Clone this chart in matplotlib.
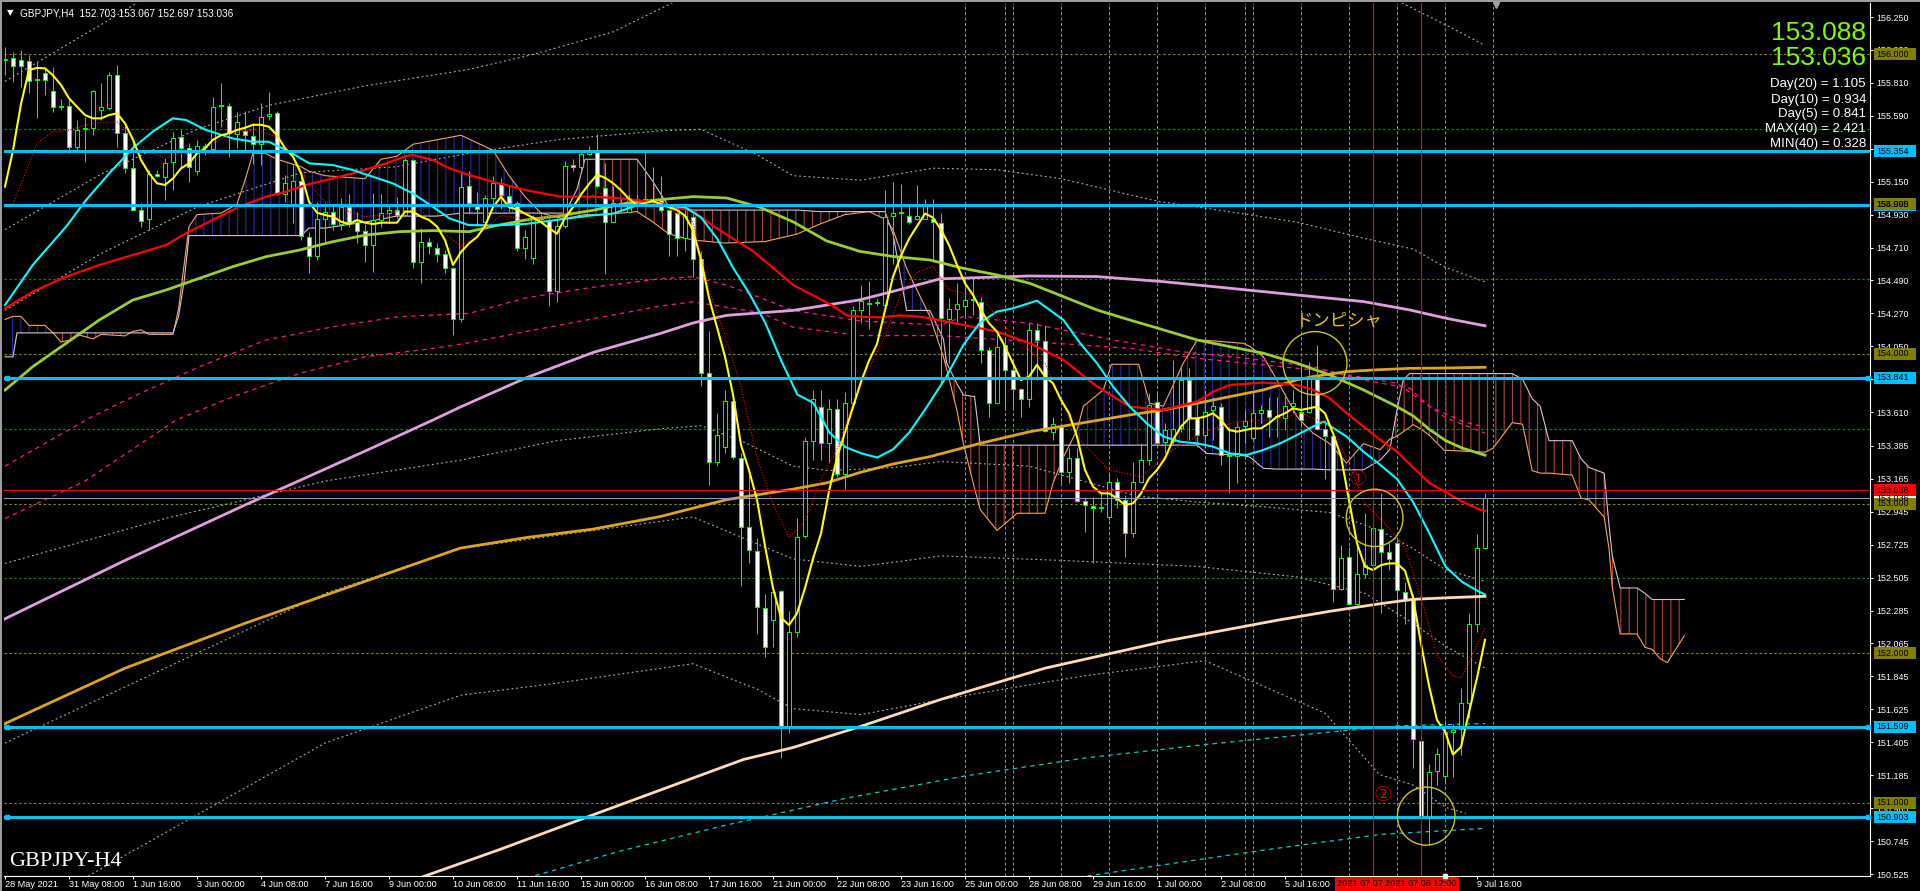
import numpy as np
import matplotlib
matplotlib.use("Agg")
import matplotlib.pyplot as plt
from matplotlib.patches import Ellipse, Rectangle
from matplotlib.transforms import blended_transform_factory

plt.rcParams['hatch.linewidth'] = 0.8

# ======================= DATA =======================
opens = [155.960,155.974,155.963,155.958,155.830,155.874,155.756,155.651,155.655,155.384,
         155.500,155.506,155.630,155.640,155.863,155.473,155.239,154.960,154.900,155.200,
         155.183,155.280,155.446,155.373,155.220,155.380,155.370,155.660,155.655,155.470,
         155.490,155.455,155.400,155.590,155.606,155.070,154.990,155.156,154.780,154.653,
         154.900,154.950,154.867,154.983,154.883,154.822,154.727,154.894,154.940,154.960,
         154.927,155.295,154.616,154.745,154.710,154.670,154.571,154.230,155.120,155.000,
         154.881,155.044,155.140,155.055,155.007,154.707,154.640,154.915,154.886,154.417,
         154.853,155.260,155.246,155.336,155.360,155.110,154.881,155.000,154.950,155.030,
         155.030,155.020,155.027,154.960,154.942,154.774,154.915,154.633,153.870,153.279,
         153.377,153.686,153.306,152.843,152.682,152.300,152.225,152.413,151.508,152.140,
         152.786,153.419,153.644,153.405,153.630,153.194,153.672,154.296,154.330,154.340,
         154.325,154.920,154.940,154.920,154.900,154.903,154.900,154.876,154.231,154.297,
         154.320,154.360,154.349,154.026,153.674,154.059,153.890,153.763,153.696,154.160,
         154.088,153.480,153.510,153.213,153.302,153.020,152.986,152.970,152.913,153.146,
         153.024,152.805,153.146,153.291,153.681,153.413,153.420,153.502,153.825,153.569,
         153.458,153.625,153.648,153.320,153.318,153.518,153.436,153.607,153.625,153.580,
         153.569,153.650,153.614,153.614,153.836,153.496,153.451,152.427,152.640,152.329,
         152.529,152.589,152.828,152.678,152.734,152.410,152.359,151.413,150.914,151.213,
         151.183,151.472,151.497,151.669,152.198,152.703]
highs = [156.050,156.018,156.030,155.996,155.952,155.907,155.918,155.700,155.707,155.562,
         155.580,155.760,155.810,155.885,155.930,155.520,155.430,155.005,155.228,155.228,
         155.306,155.484,155.495,155.406,155.430,155.410,155.718,155.807,155.673,155.618,
         155.620,155.540,155.673,155.751,155.620,155.195,155.270,155.183,154.816,155.016,
         155.005,155.000,155.040,155.070,154.950,154.870,155.076,155.070,154.990,155.050,
         155.306,155.300,154.838,154.771,154.738,154.693,154.582,155.206,155.218,155.078,
         155.060,155.190,155.176,155.120,155.020,154.825,154.930,154.937,154.909,154.909,
         155.288,155.300,155.360,155.387,155.470,155.274,155.120,155.035,155.060,155.060,
         155.359,155.246,155.190,154.965,154.950,154.965,154.937,154.684,154.150,153.602,
         153.756,153.714,153.335,153.222,152.773,152.393,152.435,152.421,152.280,152.900,
         153.447,153.756,153.756,153.700,153.700,153.742,154.318,154.459,154.487,154.375,
         155.092,155.148,155.134,154.993,155.130,155.035,155.035,154.939,154.371,154.470,
         154.505,154.516,154.382,154.048,154.148,154.115,153.959,153.770,154.204,154.204,
         154.193,153.580,153.536,153.369,153.369,153.046,153.046,153.068,153.202,153.168,
         153.057,153.280,153.402,153.736,153.741,153.536,153.959,153.915,153.903,153.669,
         153.758,153.714,153.670,153.514,153.547,153.625,153.736,153.658,153.714,153.714,
         153.736,153.758,153.937,153.948,154.059,153.558,153.480,152.723,152.712,152.723,
         152.935,153.157,153.068,152.734,152.756,152.474,152.397,151.733,151.259,151.369,
         151.553,151.528,151.771,152.270,152.794,153.067]
lows = [155.860,155.818,155.785,155.740,155.573,155.729,155.618,155.630,155.344,155.350,
        155.284,155.460,155.560,155.630,155.384,155.206,154.960,154.845,154.830,155.180,
        155.027,155.094,155.239,155.150,155.195,155.330,155.339,155.517,155.317,155.373,
        155.360,155.270,155.262,155.562,155.060,155.016,154.872,154.760,154.537,154.627,
        154.740,154.827,154.830,154.850,154.740,154.616,154.548,154.850,154.872,154.905,
        154.916,154.571,154.470,154.670,154.616,154.537,154.126,154.215,154.937,154.853,
        154.840,154.990,154.965,154.950,154.684,154.633,154.600,154.880,154.319,154.347,
        154.840,155.218,155.230,155.330,155.106,154.530,154.880,154.965,154.940,155.000,
        155.007,155.000,154.950,154.656,154.656,154.684,154.515,153.785,153.124,153.250,
        153.335,153.300,152.450,152.604,152.126,151.972,152.042,151.297,151.465,152.110,
        152.773,153.292,153.292,153.280,153.180,153.096,153.644,154.206,154.164,154.320,
        154.318,154.600,154.684,154.867,154.895,154.900,154.614,153.803,153.937,154.200,
        154.237,154.260,153.937,153.580,153.670,153.625,153.648,153.580,153.648,153.825,
        153.480,153.425,153.135,153.135,153.013,152.812,152.600,152.946,152.890,152.968,
        152.645,152.779,153.135,153.257,153.402,153.335,153.400,153.480,153.425,153.380,
        153.380,153.425,153.257,153.068,153.135,153.402,153.425,153.536,153.447,153.447,
        153.491,153.603,153.514,153.603,153.490,153.162,152.344,152.422,152.329,152.322,
        152.500,152.578,152.266,152.556,152.244,152.193,151.234,150.658,150.722,151.119,
        151.132,151.170,151.323,151.566,152.142,152.697]
closes = [155.970,155.925,155.925,155.825,155.834,155.830,155.651,155.655,155.384,155.495,
          155.510,155.758,155.650,155.863,155.473,155.239,154.961,154.887,155.201,155.190,
          155.277,155.439,155.373,155.250,155.390,155.390,155.651,155.655,155.473,155.550,
          155.460,155.400,155.584,155.605,155.068,155.139,155.156,154.787,154.653,154.898,
          154.950,154.867,154.983,154.883,154.822,154.727,154.894,154.943,154.960,154.927,
          155.295,154.616,154.749,154.720,154.670,154.571,154.230,155.117,155.007,154.970,
          155.044,155.140,155.063,155.007,154.707,154.782,154.915,154.900,154.417,154.853,
          155.252,155.250,155.336,155.360,155.120,154.881,155.007,154.990,155.044,155.035,
          155.035,155.030,154.960,154.800,154.774,154.923,154.633,153.869,153.279,153.461,
          153.686,153.312,152.843,152.688,152.309,152.042,152.407,151.508,152.140,152.778,
          153.419,153.700,153.405,153.630,153.194,153.672,154.296,154.352,154.340,154.345,
          154.915,154.940,154.945,154.880,154.920,154.993,154.880,154.237,154.297,154.333,
          154.360,154.365,154.026,153.674,154.048,153.890,153.763,153.696,154.160,154.093,
          153.487,153.531,153.213,153.302,153.019,152.990,152.968,152.975,153.146,153.024,
          152.805,153.146,153.291,153.658,153.407,153.491,153.500,153.825,153.569,153.458,
          153.614,153.652,153.324,153.322,153.514,153.554,153.607,153.625,153.580,153.585,
          153.652,153.670,153.558,153.836,153.496,153.451,152.427,152.634,152.330,152.529,
          152.589,152.834,152.678,152.627,152.420,152.359,151.426,150.914,151.208,151.328,
          151.472,151.489,151.669,152.198,152.704,153.036]

ask_price = 153.088

# indicator lines, (bar index, price) pairs
fast_ma = [(0,155.117),(1,155.36),(2,155.67),(3,155.896),(4,155.91),(5,155.907),(6,155.86),(7,155.796),
    (8,155.707),(9,155.65),(10,155.595),(11,155.573),(12,155.573),(13,155.595),(14,155.606),(15,155.54),
    (16,155.43),(17,155.295),(18,155.206),(19,155.139),(20,155.128),(21,155.172),(22,155.239),(23,155.272),
    (24,155.339),(25,155.373),(26,155.43),(27,155.46),(28,155.473),(29,155.495),(30,155.51),(31,155.53),
    (32,155.53),(33,155.517),(34,155.46),(35,155.373),(36,155.317),(37,155.206),(38,155.016),(39,154.943),
    (40,154.927),(41,154.916),(42,154.883),(43,154.867),(44,154.894),(45,154.876),(46,154.867),(47,154.876),
    (48,154.876),(49,154.876),(50,154.95),(51,154.95),(52,154.916),(53,154.894),(54,154.85),(55,154.76),
    (56,154.593),(57,154.68),(58,154.738),(59,154.78),(60,154.853),(61,154.979),(62,155.05),(63,154.979),
    (64,154.965),(65,154.937),(66,154.909),(67,154.88),(68,154.84),(69,154.802),(70,154.909),(71,154.979),
    (72,155.064),(73,155.134),(74,155.196),(75,155.176),(76,155.14),(77,155.092),(78,155.035),(79,154.993),
    (80,155.007),(81,155.02),(82,155.0),(83,154.979),(84,154.96),(85,154.923),(86,154.825),(87,154.628),
    (88,154.375),(89,154.178),(90,153.981),(91,153.728),(92,153.391),(93,153.222),(94,153.026),(95,152.716),
    (96,152.435),(97,152.238),(98,152.188),(99,152.266),(100,152.435),(101,152.632),(102,152.8),(103,153.082),
    (104,153.307),(105,153.475),(106,153.644),(107,153.813),(108,153.953),(109,154.066),(110,154.29),
    (111,154.515),(112,154.656),(113,154.768),(114,154.853),(115,154.937),(116,154.91),(117,154.828),
    (118,154.727),(119,154.594),(120,154.471),(121,154.393),(122,154.293),(123,154.204),(124,154.148),
    (125,154.048),(126,153.937),(127,153.825),(128,153.848),(129,153.926),(130,153.848),(131,153.803),
    (132,153.692),(133,153.603),(134,153.447),(135,153.224),(136,153.113),(137,153.068),(138,153.068),
    (139,153.035),(140,152.99),(141,153.001),(142,153.068),(143,153.168),(144,153.224),(145,153.302),
    (146,153.425),(147,153.514),(148,153.569),(149,153.569),(150,153.58),(151,153.603),(152,153.558),
    (153,153.491),(154,153.48),(155,153.491),(156,153.502),(157,153.502),(158,153.536),(159,153.58),
    (160,153.603),(161,153.636),(162,153.625),(163,153.636),(164,153.647),(165,153.603),(166,153.469),
    (167,153.313),(168,153.024),(169,152.734),(170,152.578),(171,152.556),(172,152.589),(173,152.6),
    (174,152.6),(175,152.551),(176,152.372),(177,152.065),(178,151.784),(179,151.553),(180,151.477),
    (181,151.323),(182,151.374),(183,151.605),(184,151.835),(185,152.09)]
dotted_ma = [(1,155.0),(2.5,155.2),(4,155.406),(6,155.484),(8,155.495),(11,155.54),(14,155.55),(16,155.45),
    (18,155.35),(20,155.306),(22,155.339),(24,155.339),(26,155.406),(28,155.462),(30,155.495),(32,155.484),
    (34,155.45),(36,155.317),(38,155.139),(40,155.016),(43,154.95),(45,154.916),(47,154.927),(50,154.96),
    (52,154.96),(55,154.805),(57,154.716),(62,154.923),(66,154.895),(70,154.937),(74,155.078),(78,155.021),
    (82,154.993),(86,154.881),(88,154.431),(90,154.122),(92,153.785),(94,153.307),(96,152.997),(98,152.773),
    (100,152.885),(102,153.166),(104,153.363),(106,153.672),(108,153.897),(110,154.122),(112,154.403),
    (114,154.543),(116,154.586),(118,154.427),(122,154.382),(126,154.115),(130,153.937),(134,153.447),
    (138,153.224),(142,153.18),(146,153.358),(150,153.48),(154,153.547),(158,153.558),(162,153.603),
    (166,153.514),(170,153.001),(174,152.779),(175,152.704),(177,152.372),(179,151.988),(181,151.848),
    (182,151.835),(183,151.937),(185,152.167)]
cyan_ma = [(0,154.326),(3.46,154.593),(7.63,154.849),(10.13,155.027),(13.04,155.206),(15.96,155.373),
    (18.46,155.484),(20.96,155.573),(22.63,155.562),(25.13,155.495),(28.46,155.439),(30.96,155.417),
    (32.96,155.417),(35.54,155.35),(38.04,155.272),(40.96,155.261),(43.46,155.228),(45.96,155.183),
    (48.46,155.139),(50.96,155.072),(53.46,154.983),(55.54,154.905),(57.96,154.86),(61.04,154.858),
    (65.04,154.867),(69.04,154.895),(73.04,154.923),(76.04,154.937),(79.04,154.993),(82.04,154.993),
    (85.04,154.979),(87.04,154.909),(89.04,154.768),(91.04,154.572),(93.04,154.403),(95.04,154.206),
    (97.04,153.953),(99.04,153.728),(101.04,153.672),(103.04,153.475),(105.04,153.377),(107.04,153.335),
    (109.04,153.307),(111.04,153.363),(113.04,153.475),(115.04,153.63),(117.7,153.85),(119.8,154.06),
    (121.9,154.21),(124,154.282),(126,154.304),(129,154.355),(132.3,154.226),(134.4,154.07),(136.5,153.937),
    (138.5,153.781),(140.6,153.647),(142.7,153.536),(144.8,153.447),(146.9,153.413),(149,153.402),
    (151,153.38),(153.1,153.335),(155.2,153.324),(157.3,153.358),(159.4,153.402),(161.5,153.458),
    (163.5,153.514),(164.8,153.547),(167.7,153.447),(169.8,153.347),(171.9,153.258),(174,153.164),
    (176,153.011),(178,152.806),(180.1,152.576),(182.2,152.474),(184.3,152.41),(185,152.392)]
red_ma = [(0,154.304),(3.46,154.415),(7.63,154.515),(11.79,154.593),(15.96,154.66),(20.13,154.727),
    (22.63,154.805),(25.96,154.894),(29.29,154.983),(32.63,155.05),(35.13,155.083),(37.63,155.128),
    (40.96,155.172),(44.29,155.217),(47.63,155.272),(50.13,155.321),(50.96,155.328),(53.46,155.295),
    (55.54,155.239),(58.04,155.194),(61.04,155.148),(65.21,155.092),(69.38,155.05),(73.54,155.05),
    (77.71,155.035),(81.88,155.007),(86.04,154.951),(88.54,154.853),(91.04,154.768),(93.54,154.684),
    (96.04,154.572),(98.54,154.459),(101.04,154.389),(103.54,154.319),(105.21,154.257),(106.88,154.248),
    (109.38,154.243),(111.88,154.257),(114.38,154.248),(115.6,154.237),(119.8,154.193),(124.0,154.148),
    (128.1,154.07),(132.3,153.959),(136.5,153.781),(140.6,153.647),(144.8,153.625),(149.0,153.681),
    (151.0,153.747),(153.1,153.792),(157.3,153.808),(161.5,153.792),(163.5,153.759),(165.6,153.703),
    (167.7,153.603),(169.8,153.514),(171.9,153.425),(174.0,153.347),(176.0,153.241),(178.0,153.139),
    (180.1,153.075),(182.2,153.011),(184.3,152.96),(185,152.952)]
green_ma = [(0,153.758),(3.46,153.914),(7.63,154.07),(11.79,154.226),(15.96,154.359),(20.13,154.426),
    (24.29,154.504),(28.46,154.582),(32.63,154.649),(36.79,154.693),(40.96,154.749),(45.13,154.794),
    (49.29,154.816),(53.46,154.823),(58.04,154.816),(61.04,154.853),(65.21,154.895),(69.38,154.923),
    (73.54,154.959),(77.71,155.007),(81.88,155.03),(86.04,155.05),(90.21,155.041),(94.38,154.979),
    (98.54,154.881),(102.71,154.754),(106.88,154.684),(111.04,154.65),(115.6,154.627),(119.8,154.571),
    (124.0,154.527),(128.1,154.471),(132.3,154.382),(136.5,154.293),(140.6,154.226),(144.8,154.16),
    (149.0,154.093),(153.1,154.048),(157.3,154.004),(161.5,153.937),(165.6,153.859),(169.8,153.759),
    (173.9,153.65),(176,153.586),(178,153.497),(180.1,153.42),(182.2,153.369),(185,153.323)]
gold_ma = [(0,151.53),(15,151.90),(30,152.20),(45,152.48),(56.9,152.702),(65.2,152.773),(73.5,152.829),
    (81.9,152.913),(90.2,153.026),(98.5,153.096),(102.7,153.138),(106.9,153.208),(111.0,153.264),
    (115.6,153.313),(121.9,153.402),(128.1,153.48),(134.4,153.536),(140.6,153.592),(144.8,153.625),
    (149.0,153.67),(153.1,153.714),(157.3,153.759),(161.5,153.826),(163.5,153.848),(167.7,153.881),
    (171.0,153.892),(175.6,153.903),(180,153.905),(185,153.91)]
plum_ma = [(0,152.23),(15,152.62),(30,152.99),(45,153.35),(53.5,153.558),(56.9,153.644),(65.2,153.841),
    (73.5,154.009),(81.9,154.136),(86.0,154.206),(90.2,154.257),(98.5,154.29),(106.9,154.361),
    (111.0,154.417),(116.9,154.501),(128.1,154.52),(136.5,154.516),(144.8,154.482),(153.1,154.438),
    (161.5,154.393),(169.8,154.349),(175.6,154.293),(180.1,154.238),(185,154.187)]
peach_ma = [(45,150.35),(52.4,150.51),(61.9,150.69),(75,150.95),(92.3,151.29),(98.5,151.37),(106.9,151.51),
    (116.9,151.69),(130,151.90),(145,152.08),(159,152.22),(165.6,152.28),(171.8,152.33),(176,152.36),
    (180.1,152.37),(185,152.38)]
pink_dash_1 = [(0,153.25),(10.5,153.569),(16,153.714),(24.3,153.914),(32.6,154.092),(41,154.181),
    (49.3,154.248),(58,154.27),(65.2,154.375),(73.5,154.445),(81.9,154.501),(86,154.515),(90.2,154.459),
    (94.4,154.375),(98.5,154.29),(106.9,154.22),(116.9,154.192),(119.8,154.249),(128.1,154.204),
    (138.5,154.093),(146.9,154.015),(155.2,153.97),(163.5,153.914),(169.8,153.825),(175.6,153.77),
    (178,153.65),(182.2,153.548),(185,153.51)]
pink_dash_2 = [(0,152.90),(10,153.15),(21.4,153.558),(28.5,153.714),(36.8,153.869),(45.1,153.981),
    (53.5,154.036),(58,154.074),(65.2,154.15),(73.5,154.234),(81.9,154.319),(86,154.347),(94.4,154.276),
    (98.5,154.178),(106.9,154.122),(116.9,154.122),(140.6,154.037),(149,153.97),(157.3,153.926),
    (165.6,153.881),(174,153.803),(180.1,153.573),(184.3,153.484),(185,153.47)]
cyan_dash_1 = [(60,150.41),(66,150.51),(77,150.68),(90,150.85),(105,151.03),(120,151.18),(135,151.30),
    (150,151.39),(165,151.47),(174,151.515),(185,151.53)]
cyan_dash_2 = [(129,150.41),(135,150.51),(158,150.69),(172,150.79),(185,150.83)]
band_lines = [
    [(0,155.82),(13,156.23),(17,156.36)],
    [(0,154.83),(12,155.20),(24,155.50),(33,155.66),(45,155.79),(58,155.90),(66,156.0),(76,156.15),(84,156.36)],
    [(170,156.45),(174,156.36),(180,156.2),(185,156.06)],
    [(0,154.29),(12,154.67),(24,154.98),(37,155.21),(49,155.25),(58,155.34),(69,155.43),(82,155.49),(87,155.50),
     (94,155.33),(98.5,155.19),(107,155.16),(116,155.24),(124,155.23),(132,155.17),(144,155.02),(153,154.95),
     (161.5,154.88),(170,154.77),(176,154.70),(180,154.58),(185,154.48)],
    [(0,152.60),(20,152.90),(40,153.15),(57,153.29),(69,153.42),(82,153.50),(87,153.52),(92,153.42),(98.5,153.25),
     (103,153.22),(111,153.24),(117,153.28),(128,153.25),(141.5,153.05),(149,153.01),(157,152.98),(165.6,152.94),
     (171.8,152.82),(176,152.70),(180,152.56),(185,152.48)],
    [(0,151.40),(20,151.90),(40,152.40),(57,152.70),(86,152.91),(98.5,152.63),(107,152.58),(117,152.65),
     (132,152.62),(149,152.58),(161.5,152.51),(170,152.40),(176,152.20),(180,152.05),(185,151.90)],
    [(0,150.20),(20,150.80),(40,151.40),(57,151.72),(69,151.80),(86,151.93),(94,151.76),(98.5,151.63),
     (107,151.59),(117,151.69),(135,151.85),(150,151.95),(165,151.60),(171.8,151.19),(176,151.12),
     (180.1,150.97),(182.6,150.93)],
]
# Ichimoku cloud (already displaced forward)
cloud_x = [0,1,1.5,2,3,5,6,7,8,9,11,12,15,16,17,18,21,21.7,22.4,23,24,27,29,30,31,32.5,34,37,38,40,
    45,47,49,51,54,57,61,63,65,67,70,71.5,72.5,75,79,81,83,86,90,95,99,102,105,108,110,111,112.7,115.6,117.3,117.7,
    119,119.8,121.2,121.9,124,126.5,130,131,132.3,134,134.8,137.3,138.3,141.7,143.1,144.8,147.3,149,150.2,154.8,
    155.6,157.3,159,160.6,161.5,163.5,165.6,167.7,169.8,171.9,173.1,174,174.8,175.6,176,177,178,179.9,185,186,
    188.4,189.7,190.9,191.9,193,195.9,197,198,199.9,200.5,200.9,201.9,204,205,205.9,206.9,207.8,209.9]
cloud_a = [154.23,154.25,154.25,154.25,154.19,154.19,154.14,154.08,154.09,154.13,154.10,154.13,154.12,154.15,
    154.16,154.13,154.13,154.30,154.60,154.85,154.93,154.94,155.00,155.16,155.34,155.34,155.30,155.25,155.22,
    155.19,155.17,155.30,155.32,155.40,155.43,155.46,155.36,155.19,155.05,154.94,154.90,154.92,154.93,154.93,
    154.95,154.88,154.80,154.76,154.74,154.75,154.80,154.87,154.93,154.95,154.90,154.83,154.57,154.25,153.98,
    153.90,153.62,153.40,153.10,152.96,152.82,152.935,152.935,153.135,153.31,153.49,153.65,153.76,153.93,153.93,
    153.67,153.65,153.94,154.09,154.09,154.07,154.05,153.98,153.825,153.67,153.58,153.47,153.40,153.27,153.40,
    153.36,153.43,153.45,153.48,153.51,153.527,153.497,153.458,153.356,153.343,153.369,153.54,153.53,153.22,
    153.203,153.203,153.19,153.037,153.024,152.909,152.70,152.448,152.129,152.129,152.039,152.026,151.963,
    151.937,152.116]
cloud_b = [153.98,153.98,154.14,154.14,154.14,154.14,154.14,154.14,154.14,154.14,154.14,154.14,154.14,154.14,
    154.14,154.14,154.14,154.25,154.49,154.79,154.79,154.79,154.79,154.79,154.79,154.79,154.79,154.79,154.84,
    154.84,154.88,154.90,154.92,154.92,154.92,154.94,154.94,154.94,154.94,154.94,154.94,155.10,155.30,155.30,
    155.30,155.15,154.98,154.96,154.96,154.96,154.96,154.95,154.95,154.95,154.95,154.80,154.29,154.29,154.10,
    153.94,153.80,153.725,153.714,153.39,153.39,153.39,153.39,153.39,153.39,153.39,153.39,153.39,153.39,153.39,
    153.39,153.39,153.39,153.39,153.335,153.32,153.31,153.235,153.23,153.23,153.23,153.23,153.225,153.225,
    153.225,153.29,153.36,153.625,153.83,153.868,153.868,153.868,153.868,153.868,153.868,153.868,153.868,153.83,
    153.70,153.65,153.42,153.42,153.30,153.241,153.203,152.857,152.653,152.436,152.436,152.40,152.359,152.359,
    152.359,152.359]

# time axis: bars 168 and 176 carry no visible label (hidden under the vertical-line tags)
x_tick_pos = list(range(0, 185, 8))
x_tick_labels = ['28 May 2021', '31 May 08:00', '1 Jun 16:00', '3 Jun 00:00', '4 Jun 08:00', '7 Jun 16:00',
                 '9 Jun 00:00', '10 Jun 08:00', '11 Jun 16:00', '15 Jun 00:00', '16 Jun 08:00', '17 Jun 16:00',
                 '21 Jun 00:00', '22 Jun 08:00', '23 Jun 16:00', '25 Jun 00:00', '28 Jun 08:00', '29 Jun 16:00',
                 '1 Jul 00:00', '2 Jul 08:00', '5 Jul 16:00', '', '', '9 Jul 16:00']
y_tick_values = [156.250, 156.030, 155.810, 155.590, 155.370, 155.150, 154.930, 154.710, 154.490, 154.270,
                 154.050, 153.830, 153.610, 153.385, 153.165, 152.945, 152.725, 152.505, 152.285, 152.065,
                 151.845, 151.625, 151.405, 151.185, 150.965, 150.745, 150.525]
round_levels = [156.0, 155.0, 154.0, 153.0, 152.0, 151.0]
half_levels = [155.5, 154.5, 153.5, 152.5, 151.5]
sr_levels = [155.354, 154.995, 153.841, 151.509, 150.903]
day_separators = [120, 125, 126, 132, 138, 144, 150, 155, 156, 162, 168, 174, 180, 186]
event_bars = [171, 177]
event_labels = ['2021.07.07 12:00', '2021.07.08 12:00']
info_names = ['Day(20)', 'Day(10)', 'Day(5)', 'MAX(40)', 'MIN(40)']
info_values = [1.105, 0.934, 0.841, 2.421, 0.328]
symbol = 'GBPJPY'
timeframe = 'H4'

# ======================= LAYOUT / STYLE =======================
W, H = 1920, 891
def fx(px): return px / W
def fy(py): return 1 - py / H

PLOT_L, PLOT_R, PLOT_T, PLOT_B = 4, 1870, 3, 876
BAR0_X, BAR_W = 5, 8
P_REF, Y_REF, PX_PER_YEN = 156.25, 17, 149.7
def price_at(y): return P_REF - (y - Y_REF) / PX_PER_YEN
def bar_at(x): return (x - BAR0_X) / BAR_W

LIME = '#00FF00'
fig = plt.figure(figsize=(W / 100, H / 100), dpi=100, facecolor='black')
ax = fig.add_axes([fx(PLOT_L), fy(PLOT_B), (PLOT_R - PLOT_L) / W, (PLOT_B - PLOT_T) / H])
ax.set_facecolor('black')
ax.set_xlim(bar_at(PLOT_L), bar_at(PLOT_R))
ax.set_ylim(price_at(PLOT_B), price_at(PLOT_T))

for s in ['top', 'left']:
    ax.spines[s].set_visible(False)
for s in ['right', 'bottom']:
    ax.spines[s].set_color('white')
    ax.spines[s].set_linewidth(0.8)

ax.yaxis.tick_right()
ax.set_yticks(y_tick_values)
ax.set_yticklabels([f'{v:.3f}' for v in y_tick_values])
ax.set_xticks(x_tick_pos)
ax.set_xticklabels(x_tick_labels)
ax.tick_params(axis='y', colors='white', labelcolor='white', length=2.2, width=0.75, pad=2.0, labelsize=6.4)
ax.tick_params(axis='x', colors='white', labelcolor='white', length=2.2, width=0.75, pad=0.8, labelsize=6.6)
for t in ax.get_xticklabels():
    t.set_ha('left'); t.set_fontfamily('Liberation Sans')
for t in ax.get_yticklabels():
    t.set_fontfamily('Liberation Sans')

for lv in round_levels:
    ax.axhline(lv, color='#8A8A00', lw=0.8, ls=(0, (2.2, 2.2)), zorder=1)
for lv in half_levels:
    ax.axhline(lv, color='#0A8A0A', lw=0.8, ls=(0, (2.2, 2.2)), zorder=1)
for b in day_separators:
    ax.axvline(b, color='#8C8C8C', lw=0.75, ls=(0, (3, 2.2)), zorder=1)

# Ichimoku cloud
cx = np.array(cloud_x); ca = np.array(cloud_a); cb = np.array(cloud_b)
ax.fill_between(cx, ca, cb, where=ca >= cb, interpolate=True, facecolor='none',
                edgecolor='#2A2A96', hatch='||', linewidth=0, zorder=1.5)
ax.fill_between(cx, ca, cb, where=ca < cb, interpolate=True, facecolor='none',
                edgecolor='#A8443C', hatch='||', linewidth=0, zorder=1.5)
ax.plot(cx, ca, color='#F4A460', lw=0.8, zorder=1.6)
ax.plot(cx, cb, color='#D8BFD8', lw=0.8, zorder=1.6)

def draw(pairs, **kw):
    xs, ys = zip(*pairs)
    ax.plot(xs, ys, **kw)

for bl in band_lines:
    draw(bl, color='#B4B4B4', lw=0.8, ls=(0, (1.6, 2.6)), zorder=2)
draw(pink_dash_1, color='#FF1493', lw=0.9, ls=(0, (3.5, 3.5)), zorder=2)
draw(pink_dash_2, color='#FF1493', lw=0.9, ls=(0, (3.5, 3.5)), zorder=2)
draw(cyan_dash_1, color='#00CED1', lw=0.9, ls=(0, (3.5, 3.5)), zorder=2)
draw(cyan_dash_2, color='#00CED1', lw=0.9, ls=(0, (3.5, 3.5)), zorder=2)

# candles
idx = np.arange(len(opens))
o = np.array(opens); h = np.array(highs); l = np.array(lows); c = np.array(closes)
ax.vlines(idx, l, h, color=LIME, lw=0.75, zorder=3)
bull = c >= o
ax.bar(idx, np.maximum(np.abs(c - o), 0.003), width=0.52, bottom=np.minimum(o, c),
       color=np.where(bull, 'black', 'white'), edgecolor=LIME, linewidth=0.75, zorder=3.1)

# moving averages
draw(peach_ma, color='#FFDAB9', lw=2.0, zorder=3.5)
draw(plum_ma, color='#DDA0DD', lw=2.0, zorder=3.5)
draw(gold_ma, color='#DAA520', lw=2.0, zorder=3.5)
draw(green_ma, color='#9ACD32', lw=2.0, zorder=3.5)
draw(red_ma, color='#FF0000', lw=1.6, zorder=3.6)
draw(cyan_ma, color='#00FFFF', lw=1.5, zorder=3.6)
draw(dotted_ma, color='#FF0000', lw=0.8, ls=(0, (1, 1.5)), zorder=3.7)
draw(fast_ma, color='#FFFF00', lw=1.5, zorder=3.8)

# objects
for lv in sr_levels:
    ax.axhline(lv, color='#00BFFF', lw=2.2, zorder=5)
for lv in [153.841, 151.509, 150.903]:
    ax.plot([bar_at(7), bar_at(1868)], [lv, lv], ls='none', marker='s', ms=3.5,
            color='#00BFFF', clip_on=False, zorder=5.1)
ax.axhline(ask_price, color='#FF0000', lw=0.8, zorder=5)
ax.axhline(closes[-1], color='#8E9AAE', lw=0.8, zorder=5)
for b in event_bars:
    ax.axvline(b, color='#FF0000', lw=0.8, zorder=5)

ell_color = '#CFC41C'
for (ex, ey, ew, eh) in [(163.75, 153.937, 8.0, 0.4235), (171.2, 152.904, 7.1, 0.383), (177.65, 150.912, 7.2, 0.388)]:
    ax.add_patch(Ellipse((ex, ey), ew, eh, fill=False, edgecolor=ell_color, lw=1.0, zorder=6))
ax.text(166.75, 154.226, 'ドンピシャ', color='#E2C81A', fontsize=12.5, ha='center', va='center',
        family=['Noto Sans CJK JP', 'DejaVu Sans'], zorder=6)
ax.text(169.1, 153.158, '①', color='#E00000', fontsize=12, ha='center', va='center',
        family=['Noto Sans CJK JP', 'DejaVu Sans'], zorder=6)
ax.text(172.2, 151.047, '②', color='#E00000', fontsize=12, ha='center', va='center',
        family=['Noto Sans CJK JP', 'DejaVu Sans'], zorder=6)

# price labels on the axis
lbl_tr = blended_transform_factory(ax.transAxes, ax.transData)
box_x0 = (1874 - PLOT_L) / (PLOT_R - PLOT_L)
box_w = 42 / (PLOT_R - PLOT_L)
box_h = 12 / PX_PER_YEN
def axis_box(price, fc):
    ax.add_patch(Rectangle((box_x0, price - box_h / 2), box_w, box_h, transform=lbl_tr,
                           facecolor=fc, edgecolor='none', clip_on=False, zorder=20))
    ax.text(box_x0 + 2.5 / (PLOT_R - PLOT_L), price, f'{price:.3f}',
            transform=lbl_tr, color='black', fontsize=6.4, va='center', ha='left',
            family='Liberation Sans', clip_on=False, zorder=21)
for lv in sr_levels:
    axis_box(lv, '#00BFFF')
axis_box(closes[-1], 'white')
for lv in round_levels:
    axis_box(lv, '#808000')
axis_box(ask_price, '#FF0000')

# vertical-line tags on the time axis (the later one covers part of the earlier one, as in MT4)
ev_tr = blended_transform_factory(ax.transData, ax.transAxes)
for b, t in zip(event_bars, event_labels):
    ax.text(b, -(884 - PLOT_B) / (PLOT_B - PLOT_T), t, transform=ev_tr, color='black', fontsize=6.6,
            ha='center', va='center', family='Liberation Sans', clip_on=False, zorder=21,
            bbox=dict(boxstyle='square,pad=0.25', facecolor='#FF0000', edgecolor='none'))

ax.plot([180], [price_at(PLOT_B)], marker='s', ms=3, color='white', clip_on=False, zorder=22)
ax.plot([bar_at(1496)], [price_at(PLOT_T + 2)], marker='v', ms=4, color='#A0A0A0', clip_on=False, zorder=22)

fig.patches.append(Rectangle((0, fy(2)), 1, 2 / H, transform=fig.transFigure, facecolor='#9C9C9C',
                             edgecolor='none', zorder=0))
fig.patches.append(Rectangle((0, 0), 2 / W, 1, transform=fig.transFigure, facecolor='#9C9C9C',
                             edgecolor='none', zorder=0))

fig.text(fx(7), fy(13), '▼', color='white', fontsize=6, va='center', family='DejaVu Sans')
fig.text(fx(20), fy(13), f'{symbol},{timeframe}  {opens[-1]:.3f} {highs[-1]:.3f} {lows[-1]:.3f} {closes[-1]:.3f}',
         color='white', fontsize=7.2, va='center', family='Liberation Sans')

fig.text(fx(1866), fy(40), f'{ask_price:.3f}', color='#7CFC00', fontsize=19, ha='right', va='baseline',
         family='Liberation Sans')
fig.text(fx(1866), fy(65), f'{closes[-1]:.3f}', color='#7CFC00', fontsize=19, ha='right', va='baseline',
         family='Liberation Sans')
for k, (n, v) in enumerate(zip(info_names, info_values)):
    fig.text(fx(1866), fy(87.5 + 15 * k), f'{n} = {v:.3f}', color='white', fontsize=9.5, ha='right',
             va='baseline', family='Liberation Sans')

fig.text(fx(9), fy(866), f'{symbol}-{timeframe}', color='white', fontsize=16, va='baseline',
         family='Liberation Serif')

fig.savefig('out.png', dpi=100, facecolor='black')
